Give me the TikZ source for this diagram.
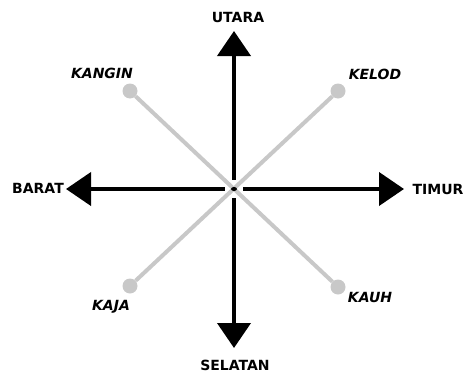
\documentclass[tikz,border=0pt]{standalone}
\usepackage{fontspec}
\setmainfont{DejaVu Sans}
\usepackage{xcolor}
\usepackage{tikz}
\usetikzlibrary{arrows.meta,shapes.geometric}

\definecolor{lightline}{RGB}{200,200,200}

\begin{document}
\begin{tikzpicture}[x=1pt, y=-1pt,
  main/.style = {font=\fontsize{14}{16}\selectfont\bfseries, inner sep=0pt},
  sub/.style  = {font=\fontsize{14}{16}\selectfont\bfseries\itshape, inner sep=0pt},
  arr/.style  = {line width=4pt, -{Triangle[length=25pt, width=33pt]}},
  diag/.style = {line width=4pt, draw=lightline},
  tip/.style  = {circle, fill=lightline, minimum size=15pt, inner sep=0pt}
]
\useasboundingbox (0,0) rectangle (469,375);

% ,  Centre ,
\node[circle, fill=white, minimum size=18pt, inner sep=0pt] (hub) at (234,189) {};

% ,  Main directions ,
\coordinate (n) at (234,31);
\coordinate (s) at (234,348);
\coordinate (w) at (66,189);
\coordinate (e) at (404,189);

\draw[arr] (hub) -- (n);
\draw[arr] (hub) -- (s);
\draw[arr] (hub) -- (w);
\draw[arr] (hub) -- (e);

\node[main] (utara)   at (238,17)  {UTARA};
\node[main] (selatan) at (235,365) {SELATAN};
\node[main] (barat)   at (38,188)  {BARAT};
\node[main] (timur)   at (438,189) {TIMUR};

% ,  Diagonal directions ,
\node[tip] (kanginpt) at (130,91)  {};
\node[tip] (kelodpt)  at (338,91)  {};
\node[tip] (kajapt)   at (130,286) {};
\node[tip] (kauhpt)   at (338,287) {};

\draw[diag] (kanginpt) -- (kauhpt);
\draw[diag] (kelodpt)  -- (kajapt);

\node[sub] (kangin) at (102,73)  {KANGIN};
\node[sub] (kelod)  at (375,74)  {KELOD};
\node[sub] (kaja)   at (111,307) {KAJA};
\node[sub] (kauh)   at (370,297) {KAUH};

% ,  Centre dot ,
\node[ellipse, fill=black, minimum width=6pt, minimum height=4pt, inner sep=0pt] (dot) at (hub) {};

\end{tikzpicture}
\end{document}
